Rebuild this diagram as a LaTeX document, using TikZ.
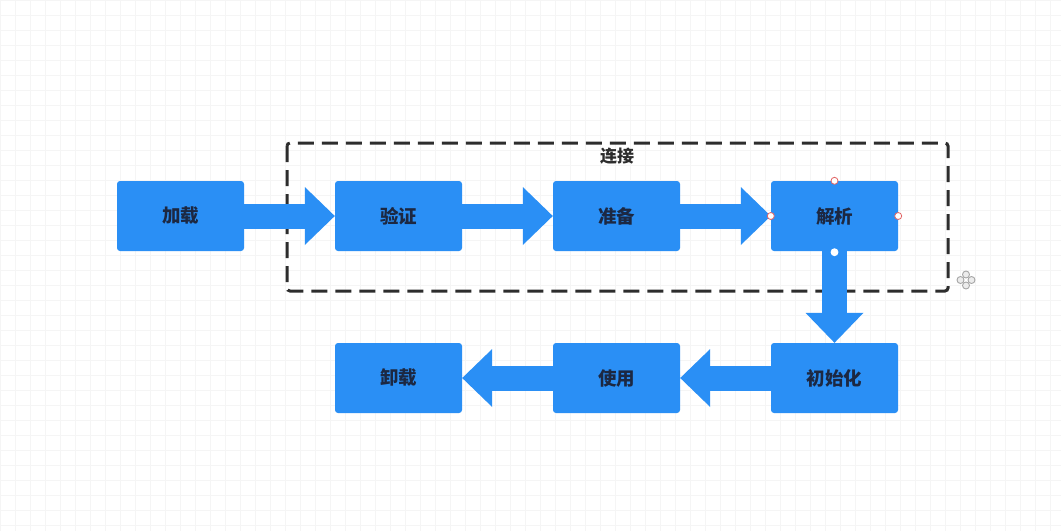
\documentclass[tikz,border=0pt]{standalone}
\usepackage{fontspec}
\newfontfamily\cjk{Noto Sans CJK SC}
\usetikzlibrary{arrows.meta,calc}
\definecolor{boxblue}{RGB}{42,143,245}
\definecolor{txtdark}{RGB}{28,40,66}
\definecolor{dashgray}{RGB}{45,45,45}
\definecolor{handlered}{RGB}{225,100,100}
\begin{document}
\begin{tikzpicture}[x=1pt,y=-1pt,
  stagebox/.style={fill=boxblue, rounded corners=3pt, minimum width=127pt, minimum height=70pt,
     inner sep=0pt, font=\cjk\bfseries\fontsize{18.5}{20}\selectfont, text=txtdark},
  fatarrow/.style={draw=boxblue, line width=25pt,
     -{Triangle[length=30pt,width=58pt,line width=0pt]}},
  handle/.style={circle, draw=handlered, fill=white, line width=0.8pt, minimum size=7pt, inner sep=0pt},
  handlew/.style={circle, draw=white, fill=white, line width=0.8pt, minimum size=7pt, inner sep=0pt},
  groupbox/.style={draw=dashgray, line width=3pt, dash pattern=on 16pt off 8pt, rounded corners=3pt},
  moveicon/.style={circle, draw=gray!70, fill=gray!15, line width=0.9pt, minimum size=7pt, inner sep=0pt}
]
% background and grid
\fill[white] (0,0) rectangle (1061,531);
\useasboundingbox (0,0) rectangle (1061,531);
\foreach \gx in {0,15,...,1061} {\draw[gray!8, line width=0.6pt] (\gx,0) -- (\gx,531);}
\foreach \gy in {0,15,...,531} {\draw[gray!8, line width=0.6pt] (0,\gy) -- (1061,\gy);}

% group box
\draw[groupbox] (287,143) rectangle (948,291);
\node[font=\cjk\bfseries\fontsize{17}{19}\selectfont, text=dashgray] (lbl) at (617,156) {连接};

% nodes
\node[stagebox] (load)   at (180.5,216) {加载};
\node[stagebox] (verify) at (398.5,216) {验证};
\node[stagebox] (prep)   at (616.5,216) {准备};
\node[stagebox] (parse)  at (834.5,216) {解析};
\node[stagebox] (init)   at (834.5,378) {初始化};
\node[stagebox] (use)    at (616.5,378) {使用};
\node[stagebox] (unload) at (398.5,378) {卸载};

% connectors
\draw[fatarrow] (load.east) -- (verify.west);
\draw[fatarrow] (verify.east) -- (prep.west);
\draw[fatarrow] (prep.east) -- (parse.west);
\draw[fatarrow] (parse.south) -- (init.north);
\draw[fatarrow] (init.west) -- (use.east);
\draw[fatarrow] (use.west) -- (unload.east);

% selection handles
\node[handle] (ht) at (parse.north) {};
\node[handle] (hl) at (parse.west) {};
\node[handle] (hr) at (parse.east) {};
\node[handlew] (hb) at ($(parse.south)+(0,1)$) {};

% move icon
\coordinate (mv) at (966,280);
\node[moveicon] (m1) at ($(mv)+(-5.5,0)$) {};
\node[moveicon] (m2) at ($(mv)+(5.5,0)$) {};
\node[moveicon] (m3) at ($(mv)+(0,-5.5)$) {};
\node[moveicon] (m4) at ($(mv)+(0,5.5)$) {};
\end{tikzpicture}
\end{document}
